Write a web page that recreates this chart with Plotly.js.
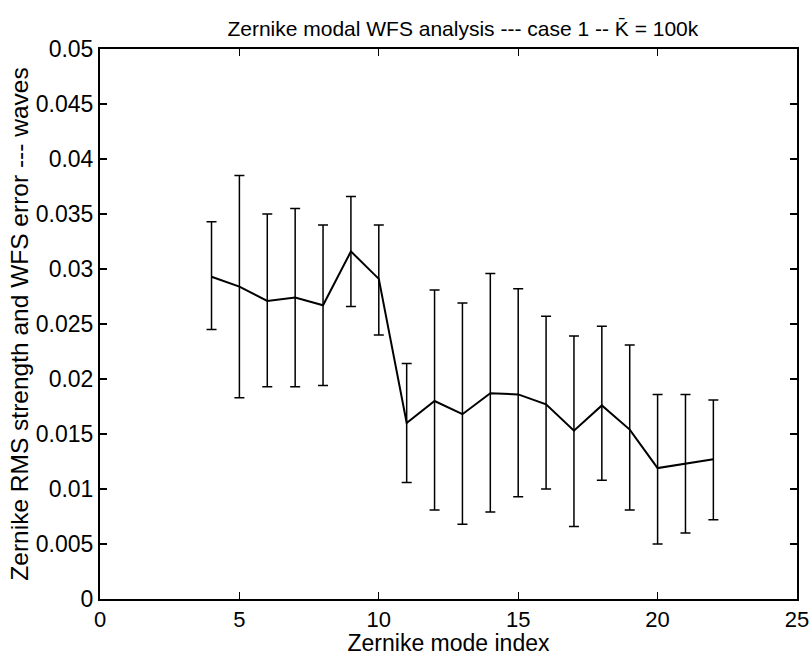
<!DOCTYPE html>
<html>
<head>
<meta charset="utf-8">
<script src="https://cdn.plot.ly/plotly-3.0.1.min.js"></script>
<style>html,body{margin:0;padding:0;background:#fff;}#chart{width:812px;height:656px;}</style>
</head>
<body>
<div id="chart"></div>
<script>
const modeIndex = [4,5,6,7,8,9,10,11,12,13,14,15,16,17,18,19,20,21,22];
const rmsStrength = [0.0293,0.0284,0.0271,0.0274,0.0267,0.0316,0.0291,0.0160,0.0180,0.0168,0.0187,0.0186,0.0177,0.0153,0.0176,0.0154,0.0119,0.0123,0.0127];
const errUpper = [0.0343,0.0385,0.0350,0.0355,0.0340,0.0366,0.0340,0.0214,0.0281,0.0269,0.0296,0.0282,0.0257,0.0239,0.0248,0.0231,0.0186,0.0186,0.0181];
const errLower = [0.0245,0.0183,0.0193,0.0193,0.0194,0.0266,0.0240,0.0106,0.0081,0.0068,0.0079,0.0093,0.0100,0.0066,0.0108,0.0081,0.0050,0.0060,0.0072];

const plusArr = rmsStrength.map((v,i)=>errUpper[i]-v);
const minusArr = rmsStrength.map((v,i)=>v-errLower[i]);

const fontFam = '"Liberation Sans", Arial, Helvetica, sans-serif';

const trace = {
  x: modeIndex, y: rmsStrength, type: 'scatter', mode: 'lines',
  line: {color: '#000', width: 2},
  error_y: {type: 'data', symmetric: false, array: plusArr, arrayminus: minusArr,
            color: '#000', thickness: 1.5, width: 5},
  hoverinfo: 'skip'
};

const layout = {
  width: 812, height: 656,
  margin: {l: 100, r: 15, t: 49, b: 57},
  paper_bgcolor: '#fff', plot_bgcolor: '#fff',
  showlegend: false,
  font: {family: fontFam, color: '#000', size: 22},
  title: {text: 'Zernike modal WFS analysis --- case 1 -- K\u0304 = 100k',
          font: {family: fontFam, size: 21, color: '#000'},
          x: 0.57, xanchor: 'center', y: 0.957, yanchor: 'middle'},
  xaxis: {
    range: [0, 25], dtick: 5, tick0: 0,
    showline: true, mirror: 'ticks', linecolor: '#000', linewidth: 2,
    ticks: 'inside', ticklen: 7, tickcolor: '#000', tickwidth: 1.2,
    showgrid: false, zeroline: false,
    tickfont: {family: fontFam, size: 22, color: '#000'},
    title: {text: 'Zernike mode index', font: {family: fontFam, size: 23, color: '#000'}, standoff: 0}
  },
  yaxis: {
    range: [0, 0.05], dtick: 0.005, tick0: 0,
    showline: true, mirror: 'ticks', linecolor: '#000', linewidth: 2,
    ticks: 'inside', ticklen: 7, tickcolor: '#000', tickwidth: 1.2,
    showgrid: false, zeroline: false,
    tickfont: {family: fontFam, size: 23, color: '#000'},
    title: {text: 'Zernike RMS strength and WFS error --- waves', font: {family: fontFam, size: 24.5, color: '#000'}, standoff: 0}
  }
};

Plotly.newPlot('chart', [trace], layout, {staticPlot: true, displayModeBar: false});
</script>
</body>
</html>
